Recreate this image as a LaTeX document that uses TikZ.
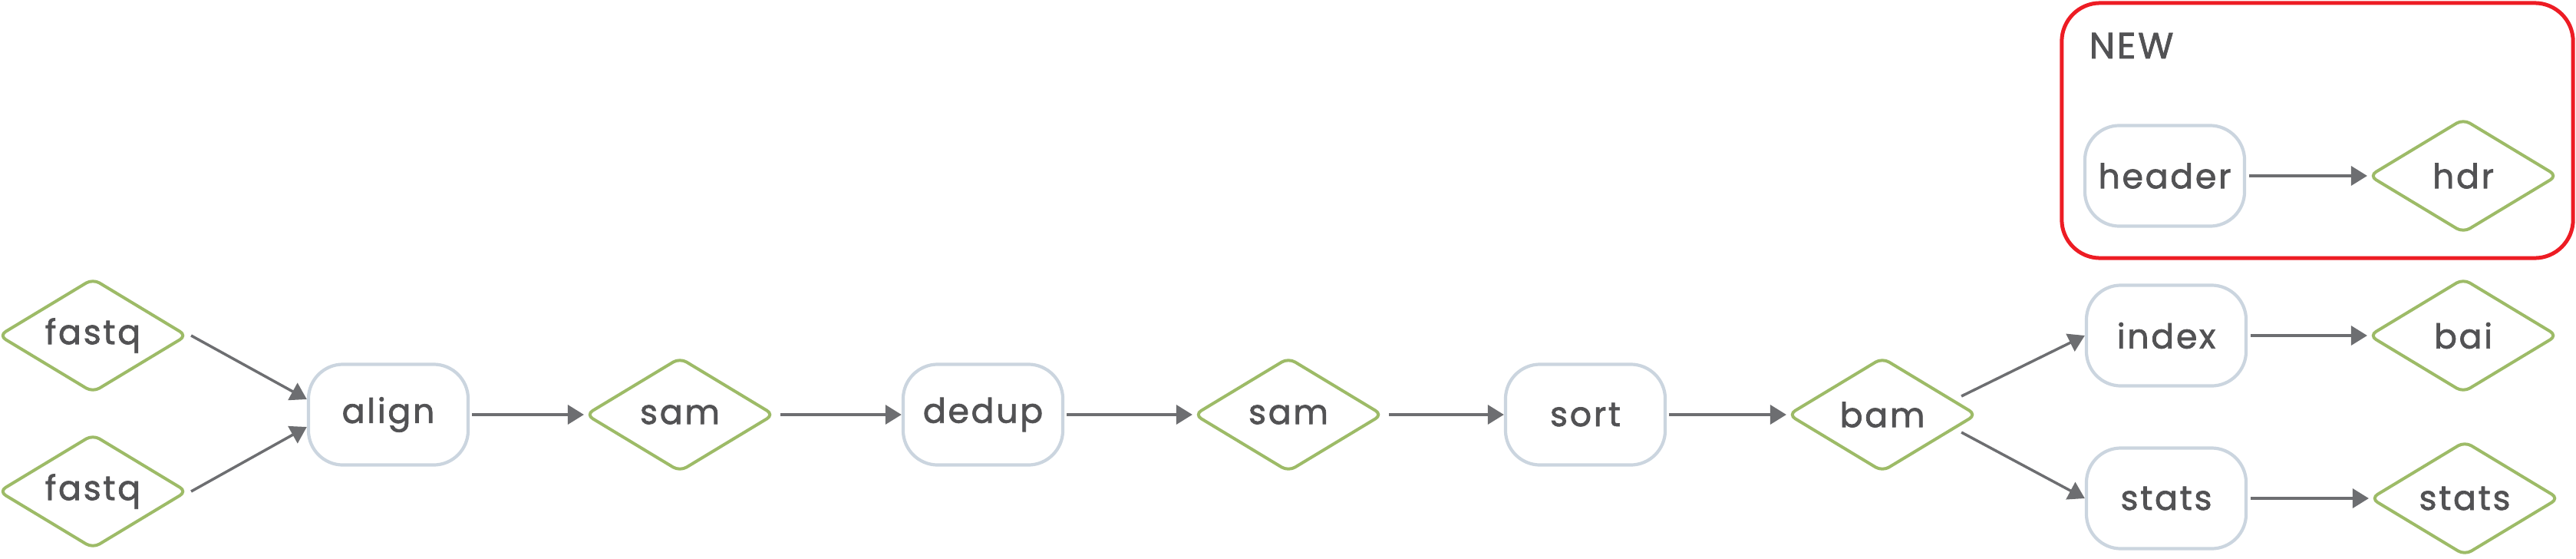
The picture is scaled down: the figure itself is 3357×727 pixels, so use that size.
\documentclass[tikz,border=0pt]{standalone}
\usepackage{fontspec}
\setmainfont{Poppins}[LetterSpace=6,FakeBold=1.6]
\usetikzlibrary{shapes.geometric,arrows.meta}
\definecolor{txtgray}{HTML}{525254}
\definecolor{datagreen}{HTML}{9DBB67}
\definecolor{procgray}{HTML}{CBD5DF}
\definecolor{arrowgray}{HTML}{6D6E71}
\definecolor{framered}{HTML}{ED1C24}
\begin{document}
\begin{tikzpicture}[x=0.01cm,y=-0.01cm,
  every node/.style={font=\fontsize{12.6}{15}\selectfont, text=txtgray},
  proc/.style={rectangle, draw=procgray, line width=0.042cm, rounded corners=0.45cm,
    minimum width=2.08cm, minimum height=1.31cm, inner sep=0pt},
  data/.style={diamond, draw=datagreen, line width=0.04cm, rounded corners=0.1cm,
    minimum width=2.46cm, minimum height=1.49cm, aspect=1.65, inner sep=0pt},
  flow/.style={draw=arrowgray, line width=0.035cm, -{Triangle[length=0.21cm,width=0.25cm]}},
  grp/.style={rectangle, draw=framered, line width=0.05cm, rounded corners=0.5cm,
    minimum width=6.66cm, minimum height=3.32cm, inner sep=0pt}
]
\useasboundingbox (0,0) rectangle (3357,727);

% group frame
\node[grp] (newgrp) at (3020,170) {};
\node[anchor=base west, inner sep=0pt, font=\fontsize{13.5}{15}\selectfont] (newlbl) at (2722,76) {NEW};

% nodes
\node[data] (fastqA) at (121,437) {fastq};
\node[data] (fastqB) at (121,640) {fastq};
\node[proc] (align) at (506,540) {align};
\node[data] (samA) at (886,540) {sam};
\node[proc] (dedup) at (1281,540) {dedup};
\node[data] (samB) at (1679,540) {sam};
\node[proc] (sort) at (2066,540) {sort};
\node[data] (bam) at (2453,540) {bam};
\node[proc] (index) at (2823,437) {index};
\node[data] (bai) at (3210,437) {bai};
\node[proc] (statsP) at (2823,649) {stats};
\node[data] (statsD) at (3212,649) {stats};
\node[proc] (header) at (2821,229) {header};
\node[data] (hdr) at (3210,229) {hdr};

% connectors
\draw[flow] ([xshift=0.03cm]fastqA.east) -- ([yshift=0.2cm]align.west);
\draw[flow] ([xshift=0.03cm]fastqB.east) -- ([yshift=-0.16cm]align.west);
\draw[flow] ([xshift=0.03cm]align.east) -- (samA.west);
\draw[flow] ([xshift=0.06cm]samA.east) -- (dedup.west);
\draw[flow] ([xshift=0.03cm]dedup.east) -- (samB.west);
\draw[flow] ([xshift=0.06cm]samB.east) -- (sort.west);
\draw[flow] ([xshift=0.03cm]sort.east) -- (bam.west);
\draw[flow] ([shift={(1.03cm,0.24cm)}]bam.center) -- (index.west);
\draw[flow] ([shift={(1.03cm,-0.23cm)}]bam.center) -- (statsP.west);
\draw[flow] ([xshift=0.04cm]index.east) -- (bai.west);
\draw[flow] ([xshift=0.04cm]statsP.east) -- (statsD.west);
\draw[flow] ([xshift=0.04cm]header.east) -- (hdr.west);
\end{tikzpicture}
\end{document}
